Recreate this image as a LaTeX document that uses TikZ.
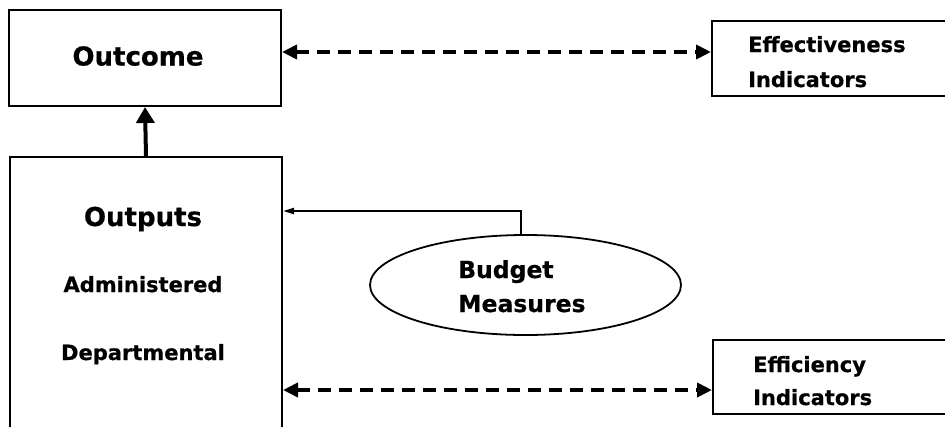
\documentclass[tikz,border=0pt]{standalone}
\usepackage{fontspec}
\setmainfont{DejaVu Sans}[BoldFeatures={FakeBold=0.6}]
\usetikzlibrary{arrows.meta,shapes.geometric}
\begin{document}
\begin{tikzpicture}[x=1pt,y=-1pt,
  box/.style={draw,line width=2pt,rectangle,inner sep=0pt},
  lbl/.style={inner sep=0pt},
  fbig/.style={font=\bfseries\fontsize{26}{30}\selectfont},
  fmid/.style={font=\bfseries\fontsize{21}{25}\selectfont},
  fbud/.style={font=\bfseries\fontsize{23.5}{28}\selectfont},
  dasharrow/.style={line width=3.8pt,dash pattern=on 13pt off 8pt,
    {Triangle[length=15pt,width=14pt]}-{Triangle[length=15pt,width=14pt]}},
  thickarrow/.style={line width=4pt,-{Triangle[length=16pt,width=18pt]}},
  thinarrow/.style={line width=2pt,-{Triangle[length=11pt,width=6pt]}}]
\useasboundingbox (0,0) rectangle (945,426);
\clip (0,0) rectangle (945,426);
% boxes
\node[box,minimum width=272pt,minimum height=96pt] (outcome) at (145,58) {};
\node[box,minimum width=272pt,minimum height=283pt] (outputs) at (146,298.5) {};
\node[box,minimum width=248pt,minimum height=75pt] (effbox) at (836,58.5) {};
\node[box,minimum width=247pt,minimum height=74pt] (effibox) at (836.5,377) {};
\node[draw,ellipse,line width=1.8pt,minimum width=311pt,minimum height=100pt,inner sep=0pt] (budget) at (525.5,285) {};
% texts
\node[lbl,fbig,anchor=base] (toutcome) at (138,65.5) {Outcome};
\node[lbl,fbig,anchor=base] (toutputs) at (143,226) {Outputs};
\node[lbl,fmid,anchor=base] (tadmin) at (143,292) {Administered};
\node[lbl,fmid,anchor=base] (tdept) at (143,360) {Departmental};
\node[lbl,fmid,anchor=base west] (teff1) at (748,52) {Effectiveness};
\node[lbl,fmid,anchor=base west] (teff2) at (748,87) {Indicators};
\node[lbl,fmid,anchor=base west] (tefi1) at (753,372) {Efficiency};
\node[lbl,fmid,anchor=base west] (tefi2) at (753,405) {Indicators};
\node[lbl,fbud,anchor=base west] (tbud1) at (458,278) {Budget};
\node[lbl,fbud,anchor=base west] (tbud2) at (458,312) {Measures};
% connectors
\coordinate (ytop) at (0,52);
\coordinate (ybot) at (0,390);
\coordinate (bend) at (521,211);
\draw[thickarrow] (outputs.north) -- (outcome.south);
\draw[dasharrow] (outcome.east |- ytop) -- (effbox.west |- ytop);
\draw[dasharrow] (outputs.east |- ybot) -- (effibox.west |- ybot);
\draw[thinarrow] (bend |- budget.north) -- (bend) -- (outputs.east |- bend);
\end{tikzpicture}
\end{document}
